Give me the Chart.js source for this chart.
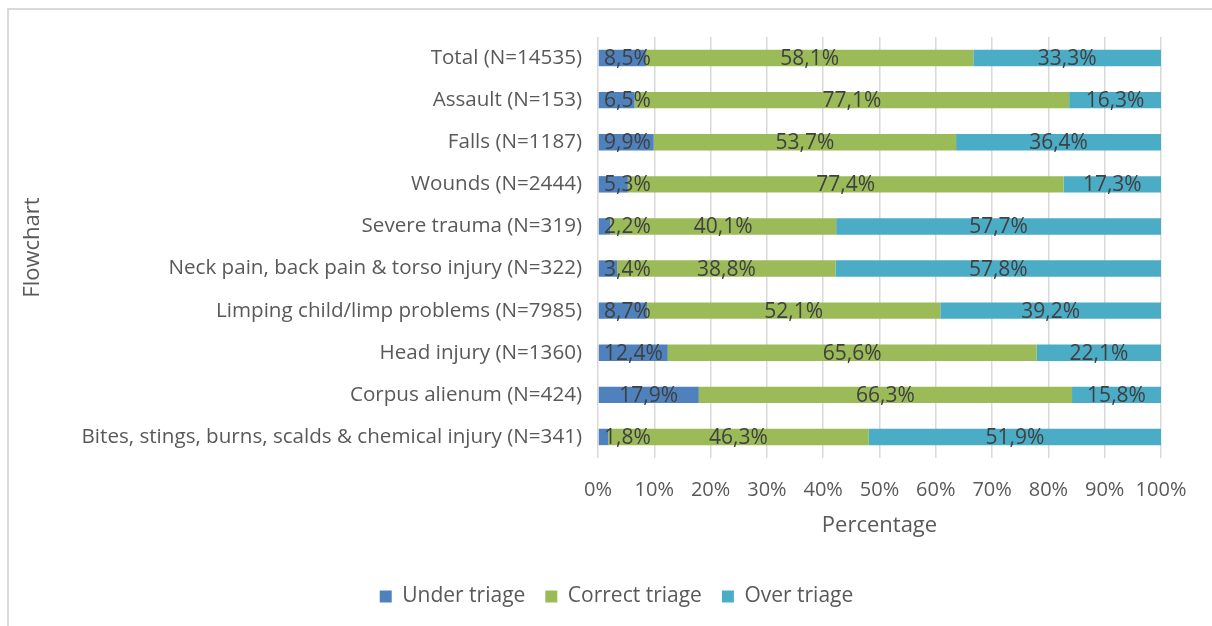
<!DOCTYPE html>
<html>
<head>
<meta charset="utf-8">
<script src="https://cdn.jsdelivr.net/npm/chart.js@4"></script>
<style>
  html, body { margin: 0; padding: 0; background: #fff; overflow: hidden; }
  .frame {
    position: absolute; left: 7px; top: 8px;
    width: 1240px; height: 660px;
    border: 2px solid #d9d9d9;
  }
  .wrap { position: absolute; left: 0; top: 0; width: 1212px; height: 626px; }
</style>
</head>
<body>
<div class="frame"></div>
<div class="wrap"><canvas id="chart"></canvas></div>
<script>
const categories = [
  "Total (N=14535)",
  "Assault (N=153)",
  "Falls (N=1187)",
  "Wounds (N=2444)",
  "Severe trauma (N=319)",
  "Neck pain, back pain & torso injury (N=322)",
  "Limping child/limp problems (N=7985)",
  "Head injury (N=1360)",
  "Corpus alienum (N=424)",
  "Bites, stings, burns, scalds & chemical injury (N=341)"
];
const underTriage   = [8.5, 6.5, 9.9, 5.3, 2.2, 3.4, 8.7, 12.4, 17.9, 1.8];
const correctTriage = [58.1, 77.1, 53.7, 77.4, 40.1, 38.8, 52.1, 65.6, 66.3, 46.3];
const overTriage    = [33.3, 16.3, 36.4, 17.3, 57.7, 57.8, 39.2, 22.1, 15.8, 51.9];
const xTicks = [0, 10, 20, 30, 40, 50, 60, 70, 80, 90, 100];

const FONT = "'Open Sans'";
const textGray = "#595959";

// 100% stacked: share of each row total
const totals = categories.map((_, i) => underTriage[i] + correctTriage[i] + overTriage[i]);
const share = arr => arr.map((v, i) => v / totals[i] * 100);

const fmt = v => v.toFixed(1).replace(".", ",") + "%";

const labelPlugin = {
  id: "segLabels",
  afterLayout(chart) {
    // legend sits a bit right of the canvas centre in the original
    chart.legend.left += 72;
  },
  afterDatasetsDraw(chart) {
    const ctx = chart.ctx;
    const area = chart.chartArea;
    ctx.save();
    ctx.font = "21px " + FONT;
    ctx.fillStyle = "#404040";
    ctx.textAlign = "center";
    ctx.textBaseline = "middle";
    chart.data.datasets.forEach((ds, di) => {
      const meta = chart.getDatasetMeta(di);
      meta.data.forEach((bar, i) => {
        const txt = fmt(ds.raw[i]);
        const w = ctx.measureText(txt).width;
        let x = (bar.x + bar.base) / 2;
        // keep label inside the plot, like the spreadsheet does
        x = Math.max(x, area.left + w / 2 + 6);
        ctx.fillText(txt, x, bar.y + 1);
      });
    });
    ctx.restore();
  }
};

new Chart(document.getElementById("chart"), {
  type: "bar",
  data: {
    labels: categories,
    datasets: [
      { label: "Under triage", data: share(underTriage), raw: underTriage, backgroundColor: "#4f81bd" },
      { label: "Correct triage", data: share(correctTriage), raw: correctTriage, backgroundColor: "#9bbb59" },
      { label: "Over triage", data: share(overTriage), raw: overTriage, backgroundColor: "#4bacc6" }
    ]
  },
  options: {
    indexAxis: "y",
    responsive: true,
    maintainAspectRatio: false,
    animation: false,
    datasets: {
      bar: { categoryPercentage: 1, barPercentage: 0.39, borderWidth: 0 }
    },
    layout: { padding: { top: 37, right: 51, left: 0, bottom: 9 } },
    plugins: {
      legend: {
        position: "bottom",
        labels: {
          font: { family: FONT, size: 21 },
          color: textGray,
          boxWidth: 12,
          boxHeight: 12,
          padding: 20
        }
      },
      tooltip: { enabled: false }
    },
    scales: {
      x: {
        stacked: true,
        min: 0,
        max: 100,
        afterBuildTicks: s => { s.ticks = xTicks.map(v => ({ value: v })); },
        ticks: {
          callback: v => v + "%",
          font: { family: FONT, size: 20 },
          color: textGray,
          padding: 20,
          maxRotation: 0,
          minRotation: 0,
          autoSkip: false
        },
        grid: { color: "#d9d9d9", lineWidth: 1.5, drawTicks: false },
        border: { display: false },
        title: {
          display: true,
          text: "Percentage",
          font: { family: FONT, size: 22 },
          color: textGray,
          padding: { top: 4, bottom: 27 }
        },
        afterFit: s => { s.height = 108; }
      },
      y: {
        stacked: true,
        ticks: {
          font: { family: FONT, size: 20.6 },
          color: textGray,
          padding: 16
        },
        grid: { display: false, drawTicks: false },
        border: { display: false },
        title: {
          display: true,
          text: "Flowchart",
          font: { family: FONT, size: 22 },
          color: textGray,
          padding: { top: 20, bottom: 0 }
        },
        afterFit: s => { s.width = 598; }
      }
    }
  },
  plugins: [labelPlugin]
});
</script>
</body>
</html>
